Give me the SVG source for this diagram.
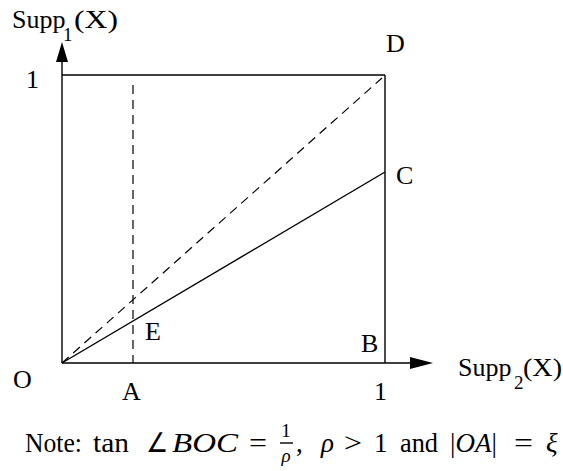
<svg xmlns="http://www.w3.org/2000/svg" width="563" height="471" viewBox="0 0 563 471">
<style>
.l{fill:none;stroke:#000;stroke-width:1.4}
.d{fill:none;stroke:#000;stroke-width:1.2;stroke-dasharray:9 6}
.t{font-family:"Liberation Serif","Times New Roman",serif;font-size:26px;fill:#000}
.sub{font-family:"Liberation Serif","Times New Roman",serif;font-size:19px;fill:#000}
.n{font-family:"Liberation Serif","Times New Roman",serif;font-size:27px;fill:#000}
.s{font-family:"Liberation Serif","Times New Roman",serif;font-size:19px;fill:#000}
.i{font-style:italic}
</style>
<rect width="563" height="471" fill="#fff"/>
<g id="connectors">
<line class="l" x1="62" y1="363" x2="62" y2="60"/>
<polygon points="62,42 56,62 68,62" fill="#000"/>
<line class="l" x1="62" y1="363" x2="412" y2="363"/>
<polygon points="433,363 410,357 410,369" fill="#000"/>
<line class="l" x1="62" y1="75" x2="385" y2="75"/>
<line class="l" x1="385" y1="75" x2="385" y2="363"/>
<line class="d" x1="133" y1="85" x2="133" y2="363"/>
<line class="d" x1="62" y1="363" x2="382" y2="78"/>
<line class="l" x1="62" y1="363" x2="385" y2="172"/>
</g>
<g id="labels">
<text class="t" x="12" y="28">Supp</text>
<text class="sub" x="63" y="41">1</text>
<text class="t" x="74" y="28" textLength="44" lengthAdjust="spacingAndGlyphs">(X)</text>
<text class="t" x="26" y="88">1</text>
<text class="t" x="386" y="52">D</text>
<text class="t" x="396" y="184">C</text>
<text class="t" x="145" y="340">E</text>
<text class="t" x="361" y="352">B</text>
<text class="t" x="13" y="388">O</text>
<text class="t" x="122" y="400">A</text>
<text class="t" x="374" y="400">1</text>
<text class="t" x="458" y="376">Supp</text>
<text class="sub" x="514" y="389">2</text>
<text class="t" x="523" y="376" textLength="39" lengthAdjust="spacingAndGlyphs">(X)</text>
</g>
<g id="note">
<text class="n" x="25" y="452" textLength="57" lengthAdjust="spacingAndGlyphs">Note:</text>
<text class="n" x="93" y="452" textLength="36" lengthAdjust="spacingAndGlyphs">tan</text>
<text class="n" x="146" y="452" font-family="DejaVu Serif, serif" font-size="23" textLength="22" lengthAdjust="spacingAndGlyphs">∠</text>
<text class="n i" x="172" y="452" font-size="31" textLength="66" lengthAdjust="spacingAndGlyphs">BOC</text>
<text class="n" x="249" y="452" font-size="31" textLength="18" lengthAdjust="spacingAndGlyphs">=</text>
<text class="s" x="286" y="437" text-anchor="middle">1</text>
<line x1="280" y1="443" x2="293" y2="443" stroke="#000" stroke-width="1.4"/>
<text class="s i" x="286" y="462" text-anchor="middle">ρ</text>
<text class="n" x="296" y="452">,</text>
<text class="n i" x="321" y="452">ρ</text>
<text class="n" x="344" y="452" font-size="29" textLength="18" lengthAdjust="spacingAndGlyphs">&gt;</text>
<text class="n" x="374" y="452">1</text>
<text class="n" x="400" y="452" textLength="38" lengthAdjust="spacingAndGlyphs">and</text>
<text class="n" x="450" y="452" font-size="28">|<tspan class="i">OA</tspan>|</text>
<text class="n" x="514" y="452" font-size="31" textLength="19" lengthAdjust="spacingAndGlyphs">=</text>
<text class="n i" x="546" y="452">ξ</text>
</g>
</svg>
